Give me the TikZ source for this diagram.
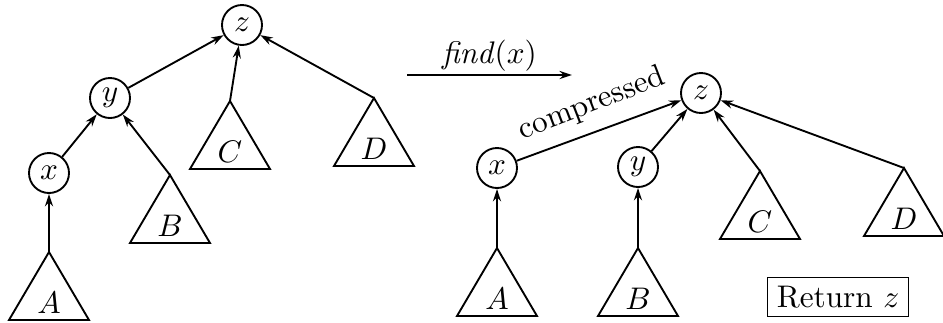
\documentclass[tikz,border=0pt]{standalone}
\usetikzlibrary{arrows.meta}
\newcommand\mytri[4]{%
  \coordinate (#1) at (#2,#3);
  \draw[tri] (#1) -- ++(-40,68) -- ++(80,0) -- cycle;
  \path (#1) ++(0,51) node (#1l) {$#4$};}
\begin{document}
\begin{tikzpicture}[x=0.32pt,y=-0.32pt,
  vert/.style={circle,draw,line width=0.6pt,minimum size=12.8pt,inner sep=0pt},
  edge/.style={line width=0.6pt,-{Stealth[length=4pt,width=2.6pt]}},
  tri/.style={line width=0.6pt}]
\useasboundingbox (0,0) rectangle (943,322);
% left tree
\node[vert] (lz) at (242,25) {$z$};
\node[vert] (ly) at (110,98) {$y$};
\node[vert] (lx) at (49,173) {$x$};
\mytri{lA}{49}{252}{A}
\mytri{lB}{170}{175}{B}
\mytri{lC}{230}{101}{C}
\mytri{lD}{374}{98}{D}
\draw[edge] (lA) -- (lx);
\draw[edge] (lx) -- (ly);
\draw[edge] (lB) -- (ly);
\draw[edge] (ly) -- (lz);
\draw[edge] (lC) -- (lz);
\draw[edge] (lD) -- (lz);
% find arrow
\coordinate (f1) at (407,75);
\coordinate (f2) at (572,75);
\draw[edge] (f1) -- node[above=1pt,inner sep=0pt] (fl) {\textit{find}$(x)$} (f2);
% right tree
\node[vert] (rz) at (701,93) {$z$};
\node[vert] (rx) at (497,168) {$x$};
\node[vert] (ry) at (638,167) {$y$};
\mytri{rA}{497}{248}{A}
\mytri{rB}{638}{248}{B}
\mytri{rC}{760}{171}{C}
\mytri{rD}{904}{168}{D}
\draw[edge] (rA) -- (rx);
\draw[edge] (rB) -- (ry);
\draw[edge] (rx) -- (rz);
\draw[edge] (ry) -- (rz);
\draw[edge] (rC) -- (rz);
\draw[edge] (rD) -- (rz);
\node[rotate=21,inner sep=1pt] (comp) at (592,104) {compressed};
\node[draw,line width=0.5pt,minimum width=45pt,minimum height=12.5pt,inner sep=2pt] (ret) at (838,297) {Return $z$};
\end{tikzpicture}
\end{document}
